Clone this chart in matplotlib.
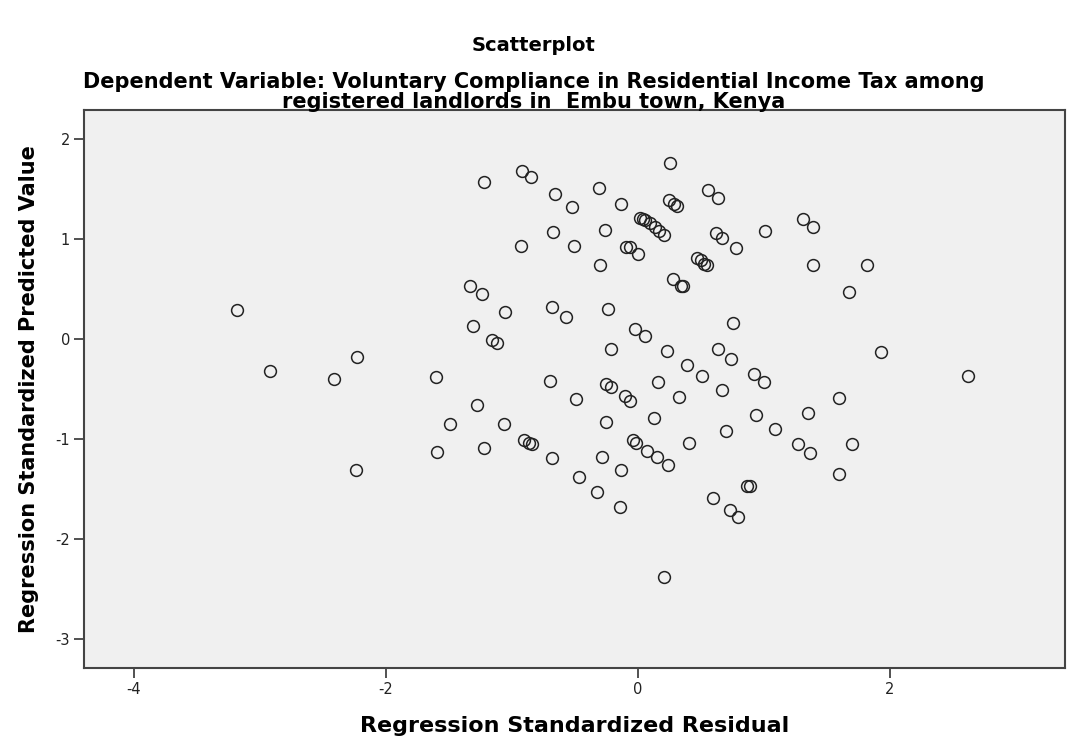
import matplotlib.pyplot as plt

# regression standardized residual (x) and predicted value (y)
residual = [
    -1.22, -0.92, -0.85, -0.66, -0.52, -0.31, -0.13, 0.26, 0.25, 0.29,
    0.31, 0.56, 0.64, 0.02, 0.04, 0.06, 0.10, 0.14, 0.17, 0.21,
    1.01, -0.67, -0.26, -0.93, -0.51, -0.09, -0.06, 0.00, -0.30, 0.62,
    0.67, 0.78, 0.47, 0.50, 0.53, 0.55, 0.28, 0.34, 0.36, -1.33,
    -1.24, -1.05, -0.68, -0.57, -0.24, -1.31, -1.16, -1.12, -0.02, 0.06,
    0.76, -0.21, 0.23, 0.64, 0.74, 0.39, 0.51, 0.92, 1.00, -1.60,
    -0.70, -0.25, -0.21, 0.16, 0.67, -0.49, -0.10, -0.06, 0.33, -1.28,
    -3.18, -2.92, -2.41, -2.23, 1.31, 1.39, 1.39, 1.82, 1.68, 1.93,
    2.62, 1.60, -2.24, -1.49, -1.06, -0.25, 0.13, 0.94, 1.09, 0.70,
    0.41, -0.90, -0.86, -0.84, -1.59, -1.22, -0.68, -0.28, -0.04, -0.01,
    0.07, 0.15, 0.24, -0.13, -0.47, -0.32, -0.14, 0.87, 0.89, 0.60,
    0.73, 0.80, 0.21, 1.35, 1.27, 1.37, 1.70, 1.60,
]
predicted = [
    1.57, 1.68, 1.62, 1.45, 1.32, 1.51, 1.35, 1.76, 1.39, 1.35,
    1.33, 1.49, 1.41, 1.21, 1.20, 1.19, 1.16, 1.12, 1.08, 1.04,
    1.08, 1.07, 1.09, 0.93, 0.93, 0.92, 0.92, 0.85, 0.74, 1.06,
    1.01, 0.91, 0.81, 0.79, 0.75, 0.74, 0.60, 0.53, 0.53, 0.53,
    0.45, 0.27, 0.32, 0.22, 0.30, 0.13, -0.01, -0.04, 0.10, 0.03,
    0.16, -0.10, -0.12, -0.10, -0.20, -0.26, -0.37, -0.35, -0.43, -0.38,
    -0.42, -0.45, -0.48, -0.43, -0.51, -0.60, -0.57, -0.62, -0.58, -0.66,
    0.29, -0.32, -0.40, -0.18, 1.20, 1.12, 0.74, 0.74, 0.47, -0.13,
    -0.37, -0.59, -1.31, -0.85, -0.85, -0.83, -0.79, -0.76, -0.90, -0.92,
    -1.04, -1.01, -1.04, -1.05, -1.13, -1.09, -1.19, -1.18, -1.01, -1.04,
    -1.12, -1.18, -1.26, -1.31, -1.38, -1.53, -1.68, -1.47, -1.47, -1.59,
    -1.71, -1.78, -2.38, -0.74, -1.05, -1.14, -1.05, -1.35,
]

x_ticks = [-4, -2, 0, 2]
y_ticks = [-3, -2, -1, 0, 1, 2]

plt.rcParams["font.family"] = ["DejaVu Sans"]
plt.rcParams["axes.unicode_minus"] = False

fig = plt.figure(figsize=(10.67, 7.40), dpi=100)
ax = fig.add_axes([0.0787, 0.0973, 0.919, 0.754])
ax.set_facecolor("#f0f0f0")

ax.plot(residual, predicted, linestyle="none", marker="o", markersize=8.5,
        markerfacecolor="none", markeredgecolor="#222222", markeredgewidth=1.1)

ax.set_xlim(-4.397, 3.389)
ax.set_ylim(-3.29, 2.29)
ax.set_xticks(x_ticks)
ax.set_yticks(y_ticks)
ax.tick_params(direction="out", length=7, width=1.2, color="#333333",
               labelsize=10.5, labelcolor="#222222", pad=3)
for side in ax.spines.values():
    side.set_color("#444444")
    side.set_linewidth(1.5)

ax.set_xlabel("Regression Standardized Residual", fontsize=16, fontweight="bold", labelpad=14)
ax.set_ylabel("Regression Standardized Predicted Value", fontsize=15, fontweight="bold", labelpad=12)

fig.text(0.5, 0.939, "Scatterplot", ha="center", va="center", fontsize=14, fontweight="bold")
fig.text(0.5, 0.876, "Dependent Variable: Voluntary Compliance in Residential Income Tax among\n"
         "registered landlords in  Embu town, Kenya",
         ha="center", va="center", fontsize=15, fontweight="bold", linespacing=1.0)

fig.savefig("out.png", dpi=100)
plt.close(fig)
